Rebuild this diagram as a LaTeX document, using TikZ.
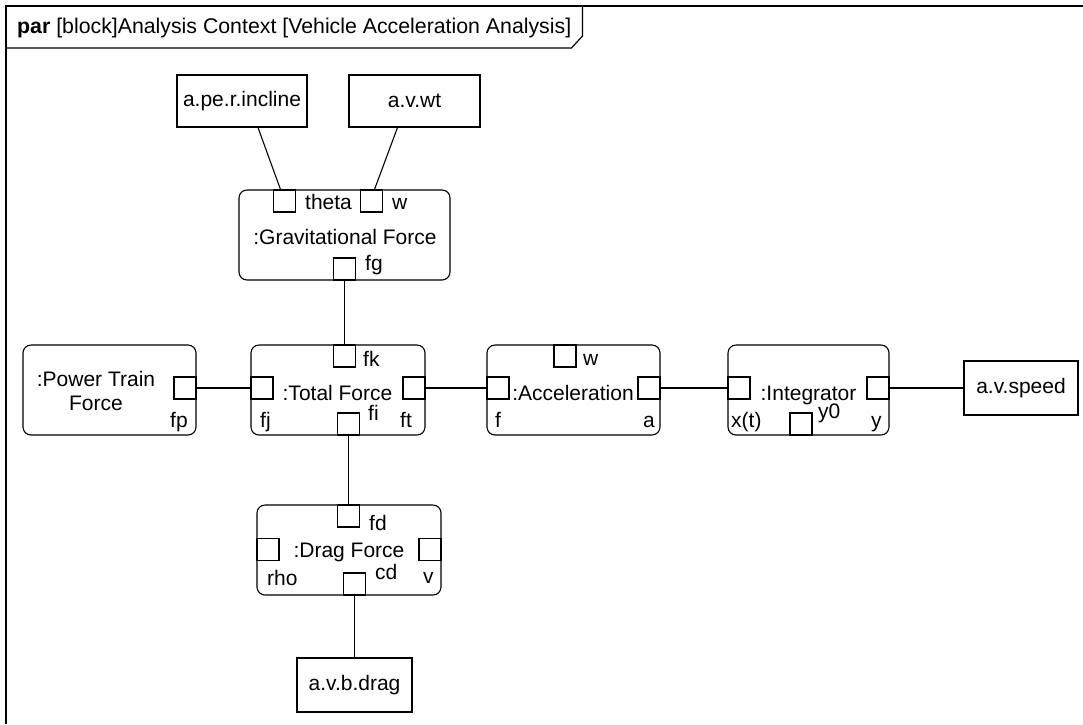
\documentclass[tikz,border=0pt]{standalone}
\usepackage{fontspec}
\setmainfont{Liberation Sans}
\usetikzlibrary{calc}
\begin{document}
\begin{tikzpicture}[x=1pt,y=-1pt,
  every node/.style={font=\fontsize{21}{24}\selectfont, inner sep=0pt},
  part/.style={draw, rounded corners=8pt, line width=1.1pt},
  valbox/.style={draw, line width=1.1pt},
  port/.style={draw, fill=white, line width=1.1pt, minimum width=22pt, minimum height=22pt},
  wire/.style={line width=1.1pt},
  lbl/.style={anchor=base west},
  blockname/.style={anchor=base, align=center}]
\useasboundingbox (0,0) rectangle (1083,724);

% diagram frame and header tab
\draw[line width=1.4pt] (6,724) -- (6,6) -- (1083,6);
\node[anchor=west, font=\fontsize{21.3}{24}\selectfont] (hdr) at (17,28) {\textbf{par} [block]Analysis Context [Vehicle Acceleration Analysis]};
\draw[line width=1.2pt] (6,48) -- (hdr.east |- 0,48) -- ($(hdr.east |- 0,36)+(11,0)$) -- ($(hdr.east |- 0,6)+(11,0)$);

% value boxes
\node[valbox, minimum width=130pt, minimum height=52pt] (incline) at (242,101) {a.pe.r.incline};
\node[valbox, minimum width=131pt, minimum height=52pt] (wt) at (414.5,101) {a.v.wt};
\node[valbox, minimum width=114pt, minimum height=54pt] (speed) at (1021,388) {a.v.speed};
\node[valbox, minimum width=115pt, minimum height=54pt] (dragval) at (354.5,685) {a.v.b.drag};

% constraint blocks
\node[part, minimum width=211pt, minimum height=90pt] (grav) at (344.5,235) {};
\node[part, minimum width=173pt, minimum height=90pt] (ptf) at (109.5,390) {};
\node[part, minimum width=174pt, minimum height=90pt] (total) at (338,390) {};
\node[part, minimum width=173pt, minimum height=90pt] (accel) at (573.5,390) {};
\node[part, minimum width=161pt, minimum height=90pt] (integ) at (808.5,390) {};
\node[part, minimum width=184pt, minimum height=90pt] (drag) at (349,550) {};

% block names (multi-line names sit on the baseline of their last line)
\node[blockname] (gravname) at (345,244) {:Gravitational Force};
\node[blockname] (ptfname) at (96,410) {:Power Train\\Force};
\node[blockname] (totalname) at (337.5,400) {:Total Force};
\node[blockname] (accelname) at (573,400) {:Acceleration};
\node[blockname] (integname) at (808.5,400) {:Integrator};
\node[blockname] (dragname) at (349,557) {:Drag Force};

% ports
\node[port] (theta) at (284.5,201) {};
\node[port] (gw) at (371.5,201) {};
\node[port] (fg) at (344.5,269) {};
\node[port] (fp) at (185,388) {};
\node[port] (fk) at (344.5,356) {};
\node[port] (fj) at (262,388) {};
\node[port] (ft) at (414,388) {};
\node[port] (fi) at (348.5,424) {};
\node[port] (aw) at (565,356) {};
\node[port] (af) at (498,388) {};
\node[port] (aa) at (649,388) {};
\node[port] (ix) at (739,388) {};
\node[port] (iy) at (878,388) {};
\node[port] (iy0) at (801,424) {};
\node[port] (fd) at (348.5,516) {};
\node[port] (rho) at (268,549.5) {};
\node[port] (dv) at (430,549.5) {};
\node[port] (cd) at (354.5,584) {};

% port labels
\node[lbl] (thetal) at (305,209) {theta};
\node[lbl] (gwl) at (392,209) {w};
\node[lbl] (fgl) at (365,270) {fg};
\node[lbl] (fpl) at (170,427) {fp};
\node[lbl] (fkl) at (363,366) {fk};
\node[lbl] (fjl) at (260,427) {fj};
\node[lbl] (ftl) at (400,427) {ft};
\node[lbl] (fil) at (368,420) {fi};
\node[lbl] (awl) at (583,365) {w};
\node[lbl] (afl) at (495,427) {f};
\node[lbl] (aal) at (643,427) {a};
\node[lbl] (ixl) at (731,427) {x(t)};
\node[lbl] (iy0l) at (818,418) {y0};
\node[lbl] (iyl) at (871,427) {y};
\node[lbl] (fdl) at (369,530) {fd};
\node[lbl] (rhol) at (267,585) {rho};
\node[lbl] (cdl) at (375,579) {cd};
\node[lbl] (dvl) at (423,583) {v};

% binding connectors
\draw[wire] ($(incline.south)+(16,0)$) -- ($(theta.north)+(-4,0)$);
\draw[wire] ($(wt.south)+(-17,0)$) -- ($(gw.north)+(3,0)$);
\draw[wire] (fg.south) -- (fk.north);
\draw[wire] (fp.east) -- (fj.west);
\draw[wire] (ft.east) -- (af.west);
\draw[wire] (aa.east) -- (ix.west);
\draw[wire] (iy.east) -- (speed.west);
\draw[wire] (fi.south) -- (fd.north);
\draw[wire] (cd.south) -- (dragval.north);
\end{tikzpicture}
\end{document}
